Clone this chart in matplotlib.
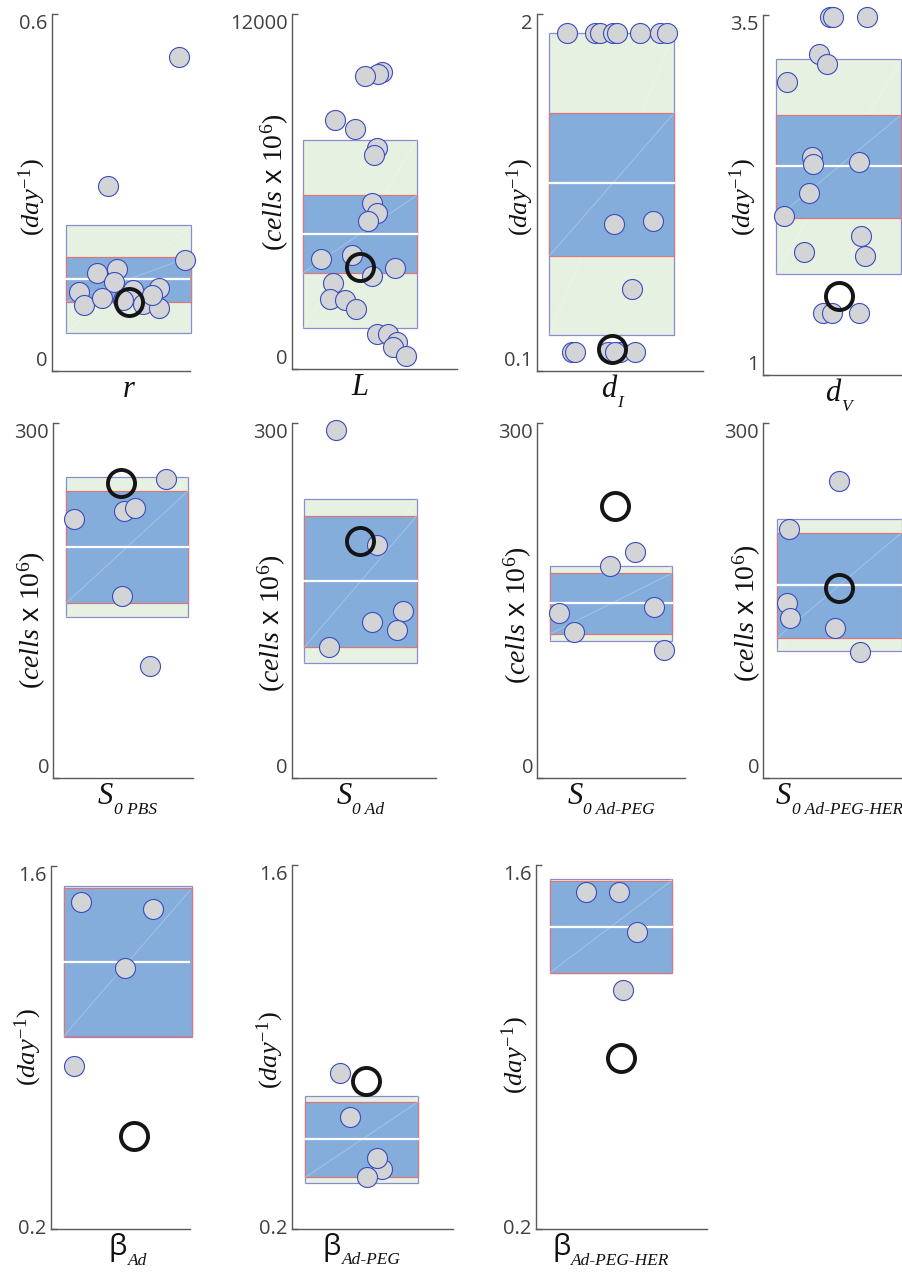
import matplotlib
matplotlib.use('Agg')
import matplotlib.pyplot as plt
from matplotlib.patches import Rectangle

plt.rcParams['font.family'] = ['Open Sans', 'DejaVu Sans']
plt.rcParams['mathtext.fontset'] = 'custom'
plt.rcParams['mathtext.rm'] = 'Liberation Serif'
plt.rcParams['mathtext.it'] = 'Liberation Serif:italic'
plt.rcParams['mathtext.sf'] = 'Open Sans'

# --- donnees : echantillons, jitter horizontal, meilleur fit, intervalles ---
r_vals = [0.528, 0.311, 0.187, 0.164, 0.171, 0.150, 0.133, 0.111, 0.123, 0.136, 0.119, 0.113, 0.139, 0.106, 0.127]
r_jit = [1.323, 0.867, 1.362, 0.796, 0.928, 0.905, 0.683, 0.715, 0.830, 1.031, 0.967, 1.095, 1.197, 1.193, 1.148]
r_fit = (1.003, 0.116)
r_box = [0.063, 0.116, 0.155, 0.192, 0.245]

L_vals = [10051, 9973, 9906, 8420, 8106, 7484, 7238, 5627, 5269, 5019, 3725, 3860, 3151, 3431, 2925, 2364, 2341, 2037, 1182, 1182, 932, 763, 449]
L_jit = [1.157, 1.125, 1.035, 0.824, 0.965, 1.118, 1.099, 1.083, 1.118, 1.059, 0.723, 0.941, 1.083, 1.247, 0.812, 0.788, 0.894, 0.972, 1.118, 1.200, 1.259, 1.235, 1.322]
L_fit = (1.000, 3465)
L_box = [1385, 3263, 4570, 5877, 7745]

dI_vals = [1.897, 1.897, 1.897, 1.897, 1.897, 1.897, 1.897, 1.897, 0.880, 0.897, 0.539, 0.201, 0.201, 0.201, 0.201, 0.201, 0.201]
dI_jit = [0.711, 0.892, 0.924, 1.010, 1.031, 1.180, 1.308, 1.351, 1.016, 1.266, 1.127, 0.743, 0.764, 0.978, 1.052, 1.148, 1.020]
dI_fit = (0.999, 0.219)
dI_box = [0.294, 0.713, 1.098, 1.474, 1.900]

dV_vals = [3.482, 3.482, 3.486, 3.225, 3.158, 3.035, 2.515, 2.462, 2.478, 2.261, 2.103, 1.964, 1.856, 1.828, 1.428, 1.428, 1.428]
dV_jit = [0.946, 0.964, 1.186, 0.878, 0.925, 0.672, 0.829, 0.835, 1.134, 0.812, 0.653, 1.147, 0.782, 1.171, 0.903, 0.957, 1.130]
dV_fit = (1.004, 1.550)
dV_box = [1.701, 2.087, 2.450, 2.802, 3.190]

s_pbs_vals = [252.2, 218.8, 225.5, 227.8, 153.8, 94.7]
s_pbs_jit = [1.254, 0.654, 0.979, 1.053, 0.964, 1.149]
s_pbs_fit = (0.958, 248.9)
s_pbs_box = [135.8, 147.6, 195.4, 242.6, 254.4]

s_ad_vals = [293.8, 196.8, 141.1, 131.3, 125.1, 111.0]
s_ad_jit = [0.824, 1.116, 1.301, 1.084, 1.260, 0.778]
s_ad_fit = (0.997, 200.2)
s_ad_box = [97.0, 110.5, 166.5, 221.3, 235.4]

s_peg_vals = [191.2, 179.4, 139.7, 144.3, 123.4, 108.2]
s_peg_jit = [1.157, 0.993, 0.657, 1.282, 0.759, 1.348]
s_peg_fit = (1.026, 229.7)
s_peg_box = [115.8, 121.7, 147.6, 172.9, 179.4]

s_her_vals = [251.1, 210.3, 147.6, 135.0, 126.5, 106.8]
s_her_jit = [0.999, 0.679, 0.664, 0.687, 0.973, 1.131]
s_her_fit = (1.001, 160.3)
s_her_box = [107.4, 118.1, 163.1, 207.2, 218.5]

b_ad_vals = [1.460, 1.433, 1.206, 0.830]
b_ad_jit = [0.706, 1.157, 0.982, 0.662]
b_ad_fit = (1.038, 0.557)
b_ad_box = [0.940, 0.945, 1.231, 1.516, 1.523]

b_peg_vals = [0.797, 0.628, 0.431, 0.472, 0.399]
b_peg_jit = [0.846, 0.916, 1.141, 1.110, 1.035]
b_peg_fit = (1.028, 0.769)
b_peg_box = [0.377, 0.397, 0.544, 0.688, 0.710]

b_her_vals = [1.498, 1.498, 1.342, 1.120]
b_her_jit = [0.837, 1.054, 1.170, 1.082]
b_her_fit = (1.065, 0.858)
b_her_box = [1.185, 1.187, 1.364, 1.541, 1.546]

DAY = r'$\mathit{(day^{-1})}$'
CELLS = r'$\mathit{(cells}$ x $\mathit{10^{6})}$'

# couleurs
VERT = '#e7f1e2'
VIOLET = '#8b8bd2'
BLEU = '#85addc'
ROUGE = '#d9787a'
GRIS = '#d3d4d6'
BORD = '#3a4cc0'

W, H = 903, 1273
fig = plt.figure(figsize=(W / 100, H / 100), dpi=100)
renderer = fig.canvas.get_renderer()

# (donnees, fit, boite, ylim, ticks, ylabel, (lettre, indice),
#  spine px, fin px, haut px, bas px, boite px, pos ylabel px, alignement label bas)
panneaux = [
    (r_vals, r_jit, r_fit, r_box, (0, 0.6), ['0', '0.6'], DAY, ('r', ''),
     52, 190, 14, 370.7, (66, 191), (32, 197), 'bottom'),
    (L_vals, L_jit, L_fit, L_box, (0, 12000), ['0', '12000'], CELLS, ('L', ''),
     292, 456.7, 14, 369.3, (303.3, 416.7), (275, 182), 'bottom'),
    (dI_vals, dI_jit, dI_fit, dI_box, (0.1, 2), ['0.1', '2'], DAY, ('d', 'I'),
     536.7, 703, 14, 371, (549.3, 674.3), (520, 197), 'bottom'),
    (dV_vals, dV_jit, dV_fit, dV_box, (1, 3.5), ['1', '3.5'], DAY, ('d', 'V'),
     762.7, 903, 14.7, 375, (776, 900.7), (743, 197), 'bottom'),
    (s_pbs_vals, s_pbs_jit, s_pbs_fit, s_pbs_box, (0, 300), ['0', '300'], CELLS, ('S', '0 PBS'),
     53.3, 193.3, 422.7, 778, (66, 188.3), (32, 620), 'bottom'),
    (s_ad_vals, s_ad_jit, s_ad_fit, s_ad_box, (0, 300), ['0', '300'], CELLS, ('S', '0 Ad'),
     291.7, 436, 422.7, 778, (304.3, 416.7), (272, 623), 'bottom'),
    (s_peg_vals, s_peg_jit, s_peg_fit, s_peg_box, (0, 300), ['0', '300'], CELLS, ('S', '0 Ad-PEG'),
     537.3, 685, 422.7, 778, (550, 672), (518, 615), 'bottom'),
    (s_her_vals, s_her_jit, s_her_fit, s_her_box, (0, 300), ['0', '300'], CELLS, ('S', '0 Ad-PEG-HER'),
     763.3, 903, 422.7, 778, (776.7, 901.7), (747, 613), 'bottom'),
    (b_ad_vals, b_ad_jit, b_ad_fit, b_ad_box, (0.2, 1.6), ['0.2', '1.6'], DAY, ('β', 'Ad'),
     50.7, 190, 866, 1229, (64, 192.3), (28, 1047), 'center'),
    (b_peg_vals, b_peg_jit, b_peg_fit, b_peg_box, (0.2, 1.6), ['0.2', '1.6'], DAY, ('β', 'Ad-PEG'),
     291.7, 453.3, 865, 1228.5, (305.3, 418.3), (270, 1050), 'center'),
    (b_her_vals, b_her_jit, b_her_fit, b_her_box, (0.2, 1.6), ['0.2', '1.6'], DAY, ('β', 'Ad-PEG-HER'),
     536, 706.7, 865.3, 1229.3, (550, 671.7), (515, 1055), 'center'),
]

for (vals, jit, fit, boite, ylim, ytl, ylab, (lettre, indice),
     x0, x1, y0, y1, (b0, b1), (lx, ly), va_bas) in panneaux:
    ax = fig.add_axes([x0 / W, 1 - y1 / H, (x1 - x0) / W, (y1 - y0) / H])
    k = 0.8 / (b1 - b0)
    ax.set_xlim(0.6 + (x0 - b0) * k, 0.6 + (x1 - b0) * k)
    ax.set_ylim(*ylim)

    lo95, lo_sd, med, hi_sd, hi95 = boite
    for (lo, hi), fc, ec, z in [((lo95, hi95), VERT, VIOLET, 1), ((lo_sd, hi_sd), BLEU, ROUGE, 1.2)]:
        ax.add_patch(Rectangle((0.6, lo), 0.8, hi - lo, facecolor=fc, edgecolor=ec,
                               lw=0.9, zorder=z, clip_on=False))
        ax.plot([0.6, 1.4], [lo, hi], color='white', lw=0.5, alpha=0.35, zorder=z + 0.05)
    ax.plot([0.6, 1.4], [med, med], color='white', lw=1.6, zorder=2)

    ax.plot(jit, vals, 'o', ms=14.4, mfc=GRIS, mec=BORD, mew=0.8, zorder=3, clip_on=False)
    ax.plot([fit[0]], [fit[1]], 'o', ms=19.5, mfc='none', mec='#151515', mew=2.8,
            zorder=4, clip_on=False)

    for s in ['top', 'right']:
        ax.spines[s].set_visible(False)
    for s in ['left', 'bottom']:
        ax.spines[s].set_color('#5a5a5a')
        ax.spines[s].set_linewidth(1.0)
    ax.set_xticks([])
    ax.set_yticks(list(ylim))
    ax.set_yticklabels(ytl)
    ax.tick_params(axis='y', direction='in', length=4, width=1.0, color='#5a5a5a',
                   pad=3, labelsize=14.5, labelcolor='#404040')
    lbls = ax.get_yticklabels()
    lbls[0].set_verticalalignment(va_bas)
    lbls[1].set_verticalalignment('top')

    ax.text((lx - x0) / (x1 - x0), (y1 - ly) / (y1 - y0), ylab, transform=ax.transAxes,
            rotation=90, ha='center', va='center', fontsize=19 if ylab == DAY else 20,
            color='#111111')

    # nom du parametre : lettre + indice, centre sous la boite
    if lettre == 'β':
        police = dict(family='Open Sans', style='normal', fontsize=21)
    else:
        police = dict(family='Liberation Serif', style='italic', fontsize=22)
    t = ax.annotate(lettre, xy=(1.0, 0), xycoords=('data', 'axes fraction'),
                    xytext=(0, -3), textcoords='offset points', ha='left', va='top',
                    color='#111111', annotation_clip=False, **police)
    largeur = t.get_window_extent(renderer).width
    if indice:
        sub = ax.annotate(indice, xy=(1, 0), xycoords=t, xytext=(0.5, -2),
                          textcoords='offset points', ha='left', va='baseline',
                          family='Liberation Serif', style='italic', fontsize=12.5,
                          color='#111111', annotation_clip=False)
        bb = sub.get_window_extent(renderer)
        largeur = bb.x1 - t.get_window_extent(renderer).x0
    t.set_position((-largeur / 2 * 72 / 100, -3))

fig.savefig('out.png', dpi=100)
